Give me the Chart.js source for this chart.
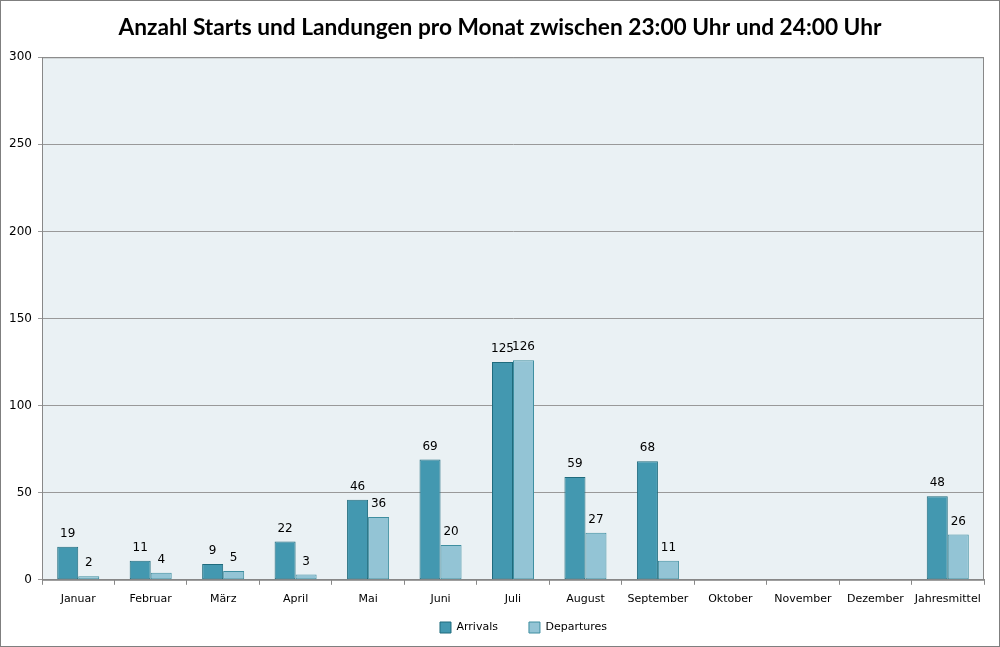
<!DOCTYPE html>
<html>
<head>
<meta charset="utf-8">
<script src="https://cdn.jsdelivr.net/npm/chart.js@4"></script>
<style>
  html, body { margin: 0; padding: 0; background: #fff; }
  #wrap { width: 998px; height: 645px; border: 1px solid #7f7f7f; }
</style>
</head>
<body>
<div id="wrap"><canvas id="chart" width="998" height="645"></canvas></div>
<script>
let months = ['Januar', 'Februar', 'März', 'April', 'Mai', 'Juni', 'Juli', 'August', 'September', 'Oktober', 'November', 'Dezember', 'Jahresmittel'];
let arrivals = [19, 11, 9, 22, 46, 69, 125, 59, 68, null, null, null, 48];
let departures = [2, 4, 5, 3, 36, 20, 126, 27, 11, null, null, null, 26];
let yTicks = [0, 50, 100, 150, 200, 250, 300];

// plot background and frame
let plotBg = {
  id: 'plotBg',
  beforeDraw: (chart) => {
    let a = chart.chartArea;
    let c = chart.ctx;
    c.save();
    c.fillStyle = '#eaf1f4';
    c.fillRect(a.left, a.top, a.right - a.left, a.bottom - a.top);
    c.restore();
  },
  afterDraw: (chart) => {
    let a = chart.chartArea;
    let c = chart.ctx;
    c.save();
    c.strokeStyle = '#888';
    c.lineWidth = 1;
    c.strokeRect(a.left + 0.5, a.top + 0.5, a.right - a.left - 1, a.bottom - a.top);
    c.restore();
  },
  afterLayout: (chart) => {
    // centre title on the whole picture, nudge legend like the original
    chart.titleBlock.left = 0;
    chart.titleBlock.right = chart.width;
    chart.legend.left += 29;
    chart.legend.right += 29;
    chart.legend.top -= 23;
    chart.legend.bottom -= 23;
  }
};

// value labels over bars
let barLabels = {
  id: 'barLabels',
  afterDatasetsDraw: (chart) => {
    let c = chart.ctx;
    c.save();
    c.font = '12px "DejaVu Sans"';
    c.fillStyle = '#000';
    c.textAlign = 'center';
    c.textBaseline = 'bottom';
    chart.data.datasets.forEach((ds, i) => {
      chart.getDatasetMeta(i).data.forEach((bar, j) => {
        if (ds.data[j] == null) return;
        c.fillText(ds.data[j], bar.x, bar.y - 7);
      });
    });
    c.restore();
  }
};

let ctx = document.getElementById('chart').getContext('2d');
let myChart = new Chart(ctx, {
  type: 'bar',
  data: {
    labels: months,
    datasets: [{
      label: 'Arrivals',
      data: arrivals,
      backgroundColor: '#4398b0',
      borderColor: '#1f6b7d',
      borderWidth: 1,
      borderSkipped: false
    }, {
      label: 'Departures',
      data: departures,
      backgroundColor: '#93c4d5',
      borderColor: '#3e8ea0',
      borderWidth: 1,
      borderSkipped: false
    }]
  },
  options: {
    responsive: false,
    animation: false,
    categoryPercentage: 0.58,
    barPercentage: 1,
    layout: { padding: { left: 4, right: 15, top: 0, bottom: -20 } },
    scales: {
      x: {
        grid: { drawOnChartArea: false, offset: true, tickLength: 5, color: '#888' },
        border: { color: '#888' },
        ticks: { color: '#000', font: { family: 'DejaVu Sans', size: 11 }, padding: 8, maxRotation: 0, autoSkip: false }
      },
      y: {
        min: 0,
        max: 300,
        afterBuildTicks: (s) => { s.ticks = yTicks.map(v => ({ value: v })); },
        afterFit: (s) => { s.width = 37; },
        grid: { color: '#999', tickLength: 4 },
        border: { color: '#888' },
        ticks: { color: '#000', font: { family: 'DejaVu Sans', size: 12 }, padding: 6 }
      }
    },
    plugins: {
      title: {
        display: true,
        text: 'Anzahl Starts und Landungen pro Monat zwischen 23:00 Uhr und 24:00 Uhr',
        color: '#000',
        font: { family: 'Lato', size: 22.7, weight: 'bold' },
        padding: { top: 13, bottom: 16 }
      },
      legend: {
        position: 'bottom',
        labels: { color: '#000', font: { family: 'DejaVu Sans', size: 11 }, boxWidth: 11, boxHeight: 11, padding: 31 }
      },
      tooltip: { enabled: false }
    }
  },
  plugins: [plotBg, barLabels]
});
</script>
</body>
</html>
